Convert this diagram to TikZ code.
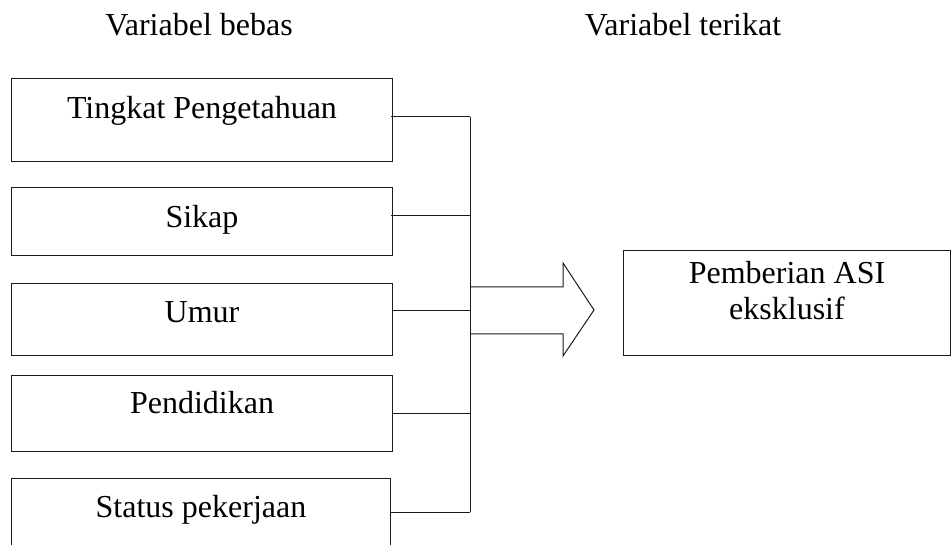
\documentclass[tikz,border=0pt]{standalone}
\usepackage{fontspec}
\setmainfont{Liberation Serif}
\usepackage{tikz}
\usetikzlibrary{positioning,calc}
\definecolor{ink}{HTML}{1A1A1A}
\tikzset{
  varbox/.style={draw=ink,line width=1pt,inner sep=0pt,anchor=north west,
                 minimum width=381pt,align=center,
                 font=\fontsize{32}{36}\selectfont},
  headtext/.style={anchor=base,inner sep=0pt,font=\fontsize{32}{36}\selectfont},
  busline/.style={draw=ink,line width=1pt}
}

\begin{document}
\begin{tikzpicture}[x=1pt,y=-1pt]
  \useasboundingbox (0,0) rectangle (951,545);
  \clip (0,0) rectangle (951,545);

  \node[headtext] (bebas) at (199,36) {Variabel bebas};
  \node[headtext] (terikat) at (683,36) {Variabel terikat};

  \node[varbox,minimum height=83pt,text height=40pt,text depth=43pt] (tingkat) at (11,78) {Tingkat Pengetahuan};
  \node[varbox,minimum height=68pt,text height=40pt,text depth=28pt] (sikap) at (11,187) {Sikap};
  \node[varbox,minimum height=72pt,text height=39pt,text depth=33pt] (umur) at (11,283) {Umur};
  \node[varbox,minimum height=76pt,text height=38pt,text depth=38pt] (didik) at (11,375) {Pendidikan};
  \node[varbox,minimum width=379pt,minimum height=120pt,text height=39pt,text depth=81pt] (kerja) at (11,478) {Status pekerjaan};

  \node[varbox,minimum width=327pt,minimum height=105pt,text height=69pt,text depth=36pt] (asi) at (623,250) {Pemberian ASI\\eksklusif};

  \coordinate (bus1) at (470,117);
  \coordinate (bus2) at (470,216);
  \coordinate (bus3) at (470,311);
  \coordinate (bus4) at (470,413);
  \coordinate (bus5) at (470,512);

  \draw[busline] ($(tingkat.east |- bus1)+(-2,0)$) -- (bus1);
  \draw[busline] ($(sikap.east |- bus2)+(-2,0)$) -- (bus2);
  \draw[busline] (umur.east |- bus3) -- (bus3);
  \draw[busline] (didik.east |- bus4) -- (bus4);
  \draw[busline] (kerja.east |- bus5) -- (bus5);
  \draw[busline] (bus1) -- (bus5);

  % block arrow towards the outcome
  \draw[busline,line join=miter] (471,287) -- (563,287) -- (563,263) -- (594,310)
    -- (563,356) -- (563,334) -- (471,334);
\end{tikzpicture}
\end{document}
